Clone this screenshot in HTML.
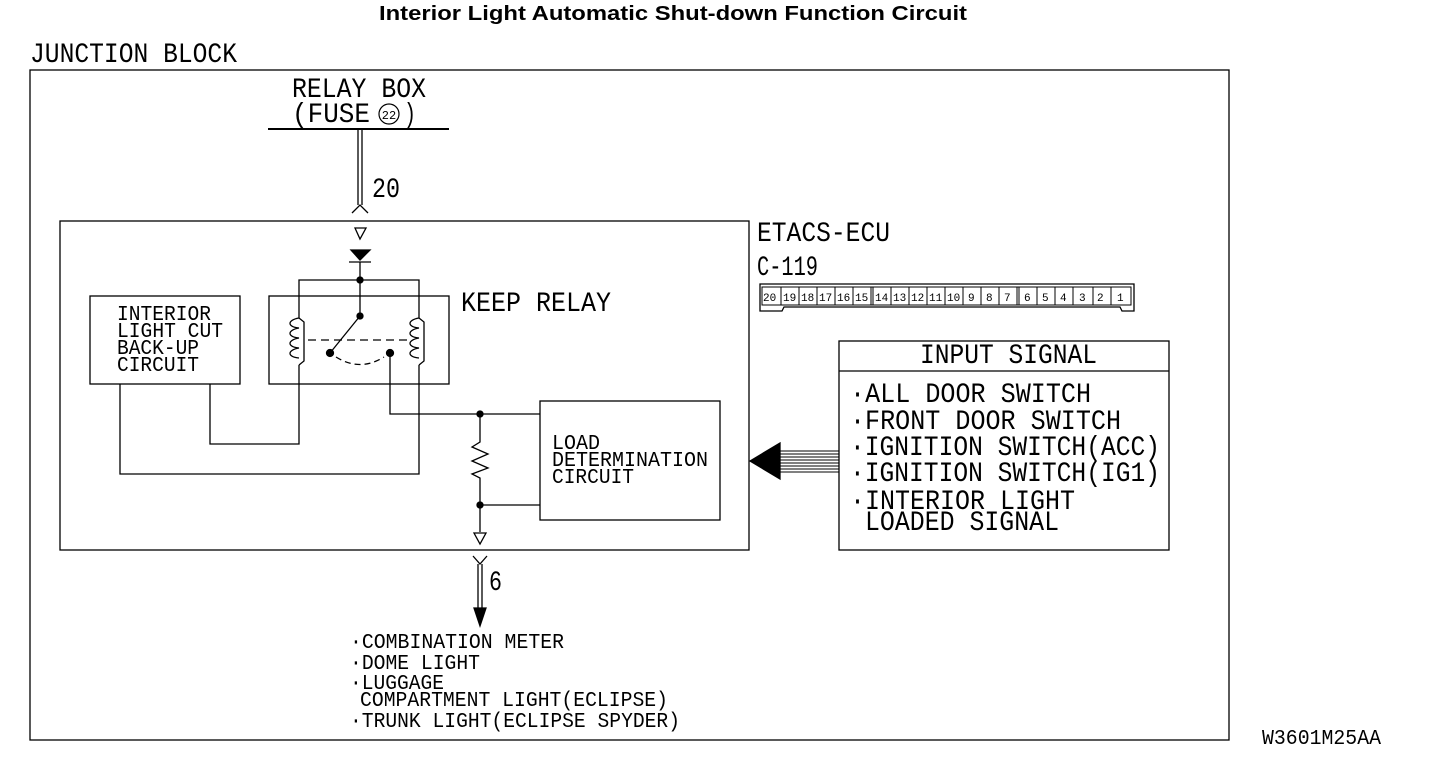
<!DOCTYPE html>
<html><head><meta charset="utf-8"><style>
html,body{margin:0;padding:0;background:#fff;}
svg{display:block;}
text{font-family:"Liberation Mono",monospace;fill:#000;}
.t{font-size:28px;}
.s{font-size:21px;}
</style></head><body>
<svg width="1440" height="764" viewBox="0 0 1440 764" xmlns="http://www.w3.org/2000/svg">
<g fill="none" stroke="#000" stroke-width="1.3">
<text x="673" y="20" text-anchor="middle" style="font-family:'Liberation Sans',sans-serif;font-weight:bold;font-size:20px" stroke="none" textLength="588" lengthAdjust="spacingAndGlyphs">Interior Light Automatic Shut-down Function Circuit</text>
<rect x="30" y="70" width="1199" height="670"/>
<rect x="60" y="221" width="689" height="329"/>
<line x1="268" y1="129" x2="449" y2="129" stroke-width="2"/>
<line x1="358" y1="130" x2="358" y2="205"/><line x1="362" y1="130" x2="362" y2="205"/>
<path d="M352 213 L360 205 L368 213"/>
<path d="M355 228 L366 228 L360 239 Z"/>
<path d="M351 250 L370 250 L360 260 Z" fill="#000"/>
<line x1="349" y1="262" x2="371" y2="262"/>
<line x1="360" y1="262" x2="360" y2="316"/>
<circle cx="360" cy="280" r="3" fill="#000"/>
<path d="M299 296 L299 280 L419 280 L419 296"/>
<rect x="269" y="296" width="180" height="88"/>
<rect x="90" y="296" width="150" height="88"/>
<rect x="540" y="401" width="180" height="119"/>
<rect x="839" y="341" width="330" height="209"/>
<line x1="839" y1="371" x2="1169" y2="371"/>
<path d="M299 296 L299 318 M299 365 L299 444 L210 444 L210 384"/>
<path d="M299 318 c-12 2 -12 9 0 10 c-12 2 -12 9 0 10 c-12 2 -12 9 0 10 c-12 2 -12 9 0 10 M299 318 L304 322 L304 361 L299 365"/>
<path d="M419 296 L419 318 M419 365 L419 474 L120 474 L120 384"/>
<path d="M419 318 c-12 2 -12 9 0 10 c-12 2 -12 9 0 10 c-12 2 -12 9 0 10 c-12 2 -12 9 0 10 M419 318 L424 322 L424 361 L419 365"/>
<line x1="308" y1="340" x2="410" y2="340" stroke-dasharray="8,5"/>
<circle cx="360" cy="316" r="3" fill="#000"/>
<line x1="360" y1="316" x2="330" y2="353"/>
<circle cx="330" cy="353" r="3.5" fill="#000"/>
<circle cx="390" cy="353" r="3.5" fill="#000"/>
<path d="M336 357 Q360 372 384 357" stroke-dasharray="6,4"/>
<path d="M390 353 L390 414 L540 414"/>
<circle cx="480" cy="414" r="3" fill="#000"/>
<path d="M480 414 L480 442 L472 447 L488 454 L472 461 L488 468 L472 474 L480 478 L480 532"/>
<circle cx="480" cy="505" r="3" fill="#000"/>
<line x1="480" y1="505" x2="540" y2="505"/>
<path d="M474 533 L486 533 L480 544 Z"/>
<path d="M473 556 L480 564 L487 556"/>
<line x1="478" y1="564" x2="478" y2="608"/><line x1="482" y1="564" x2="482" y2="608"/>
<path d="M474 608 L486 608 L480 626 Z" fill="#000"/>
<path d="M750 461 L780 443 L780 479 Z" fill="#000"/>
<g stroke-width="1">
<line x1="780" y1="451" x2="839" y2="451"/><line x1="780" y1="454" x2="839" y2="454"/>
<line x1="780" y1="457" x2="839" y2="457"/><line x1="780" y1="460" x2="839" y2="460"/>
<line x1="780" y1="463" x2="839" y2="463"/><line x1="780" y1="466" x2="839" y2="466"/>
<line x1="780" y1="469" x2="839" y2="469"/><line x1="780" y1="472" x2="839" y2="472"/>
</g>
<path d="M760 284 L1134 284 L1134 311 L1122 311 L1120 307 L784 307 L782 311 L760 311 Z"/>
<g stroke-width="1">
<path d="M762 287 L1131 287 L1131 305 L762 305 Z"/>
<line x1="781" y1="287" x2="781" y2="305"/><line x1="799" y1="287" x2="799" y2="305"/>
<line x1="817" y1="287" x2="817" y2="305"/><line x1="835" y1="287" x2="835" y2="305"/>
<line x1="853" y1="287" x2="853" y2="305"/><line x1="871" y1="287" x2="871" y2="305"/><line x1="873" y1="287" x2="873" y2="305"/>
<line x1="891" y1="287" x2="891" y2="305"/><line x1="909" y1="287" x2="909" y2="305"/>
<line x1="927" y1="287" x2="927" y2="305"/><line x1="945" y1="287" x2="945" y2="305"/>
<line x1="963" y1="287" x2="963" y2="305"/><line x1="981" y1="287" x2="981" y2="305"/>
<line x1="999" y1="287" x2="999" y2="305"/><line x1="1017" y1="287" x2="1017" y2="305"/><line x1="1019" y1="287" x2="1019" y2="305"/>
<line x1="1037" y1="287" x2="1037" y2="305"/><line x1="1055" y1="287" x2="1055" y2="305"/>
<line x1="1073" y1="287" x2="1073" y2="305"/><line x1="1093" y1="287" x2="1093" y2="305"/>
<line x1="1111" y1="287" x2="1111" y2="305"/>
</g>
</g>
<g stroke="none">
<text x="763" y="301" style="font-size:11px">20</text><text x="783" y="301" style="font-size:11px">19</text>
<text x="801" y="301" style="font-size:11px">18</text><text x="819" y="301" style="font-size:11px">17</text>
<text x="837" y="301" style="font-size:11px">16</text><text x="855" y="301" style="font-size:11px">15</text>
<text x="875" y="301" style="font-size:11px">14</text><text x="893" y="301" style="font-size:11px">13</text>
<text x="911" y="301" style="font-size:11px">12</text><text x="929" y="301" style="font-size:11px">11</text>
<text x="947" y="301" style="font-size:11px">10</text><text x="968" y="301" style="font-size:11px">9</text>
<text x="986" y="301" style="font-size:11px">8</text><text x="1004" y="301" style="font-size:11px">7</text>
<text x="1024" y="301" style="font-size:11px">6</text><text x="1042" y="301" style="font-size:11px">5</text>
<text x="1060" y="301" style="font-size:11px">4</text><text x="1079" y="301" style="font-size:11px">3</text>
<text x="1097" y="301" style="font-size:11px">2</text><text x="1117" y="301" style="font-size:11px">1</text>
</g>
<g>
<text class="t" x="30" y="62" textLength="207" lengthAdjust="spacingAndGlyphs">JUNCTION BLOCK</text>
<text class="t" x="292" y="97" textLength="134" lengthAdjust="spacingAndGlyphs">RELAY BOX</text>
<text class="t" x="292" y="122" textLength="78" lengthAdjust="spacingAndGlyphs">(FUSE</text>
<circle cx="389" cy="114" r="10" fill="none" stroke="#000" stroke-width="1.2"/>
<text x="389" y="119" text-anchor="middle" style="font-size:12px">22</text>
<text class="t" x="404" y="122" textLength="12" lengthAdjust="spacingAndGlyphs">)</text>
<text class="t" x="372" y="197" textLength="28" lengthAdjust="spacingAndGlyphs">20</text>
<text class="t" x="489" y="590" textLength="13" lengthAdjust="spacingAndGlyphs">6</text>
<text class="t" x="757" y="241" textLength="133" lengthAdjust="spacingAndGlyphs">ETACS-ECU</text>
<text class="t" x="757" y="275" textLength="61" lengthAdjust="spacingAndGlyphs">C-119</text>
<text class="t" x="461" y="311" textLength="150" lengthAdjust="spacingAndGlyphs">KEEP RELAY</text>
<text class="s" x="117" y="320" textLength="94" lengthAdjust="spacingAndGlyphs">INTERIOR</text>
<text class="s" x="117" y="337" textLength="106" lengthAdjust="spacingAndGlyphs">LIGHT CUT</text>
<text class="s" x="117" y="354" textLength="82" lengthAdjust="spacingAndGlyphs">BACK-UP</text>
<text class="s" x="117" y="371" textLength="82" lengthAdjust="spacingAndGlyphs">CIRCUIT</text>
<text class="s" x="552" y="449" textLength="48" lengthAdjust="spacingAndGlyphs">LOAD</text>
<text class="s" x="552" y="466" textLength="156" lengthAdjust="spacingAndGlyphs">DETERMINATION</text>
<text class="s" x="552" y="483" textLength="82" lengthAdjust="spacingAndGlyphs">CIRCUIT</text>
<text class="t" x="920" y="363" textLength="177" lengthAdjust="spacingAndGlyphs">INPUT SIGNAL</text>
<text class="t" x="850" y="402" textLength="241" lengthAdjust="spacingAndGlyphs">·ALL DOOR SWITCH</text>
<text class="t" x="850" y="429" textLength="271" lengthAdjust="spacingAndGlyphs">·FRONT DOOR SWITCH</text>
<text class="t" x="850" y="455" textLength="310" lengthAdjust="spacingAndGlyphs">·IGNITION SWITCH(ACC)</text>
<text class="t" x="850" y="481" textLength="310" lengthAdjust="spacingAndGlyphs">·IGNITION SWITCH(IG1)</text>
<text class="t" x="850" y="509" textLength="225" lengthAdjust="spacingAndGlyphs">·INTERIOR LIGHT</text>
<text class="t" x="865" y="530" textLength="194" lengthAdjust="spacingAndGlyphs">LOADED SIGNAL</text>
<text class="s" x="350" y="648" textLength="214" lengthAdjust="spacingAndGlyphs">·COMBINATION METER</text>
<text class="s" x="350" y="669" textLength="130" lengthAdjust="spacingAndGlyphs">·DOME LIGHT</text>
<text class="s" x="350" y="689" textLength="94" lengthAdjust="spacingAndGlyphs">·LUGGAGE</text>
<text class="s" x="360" y="706" textLength="308" lengthAdjust="spacingAndGlyphs">COMPARTMENT LIGHT(ECLIPSE)</text>
<text class="s" x="350" y="727" textLength="330" lengthAdjust="spacingAndGlyphs">·TRUNK LIGHT(ECLIPSE SPYDER)</text>
<text class="s" x="1262" y="744" textLength="119" lengthAdjust="spacingAndGlyphs">W3601M25AA</text>
</g>
</svg>
</body></html>
